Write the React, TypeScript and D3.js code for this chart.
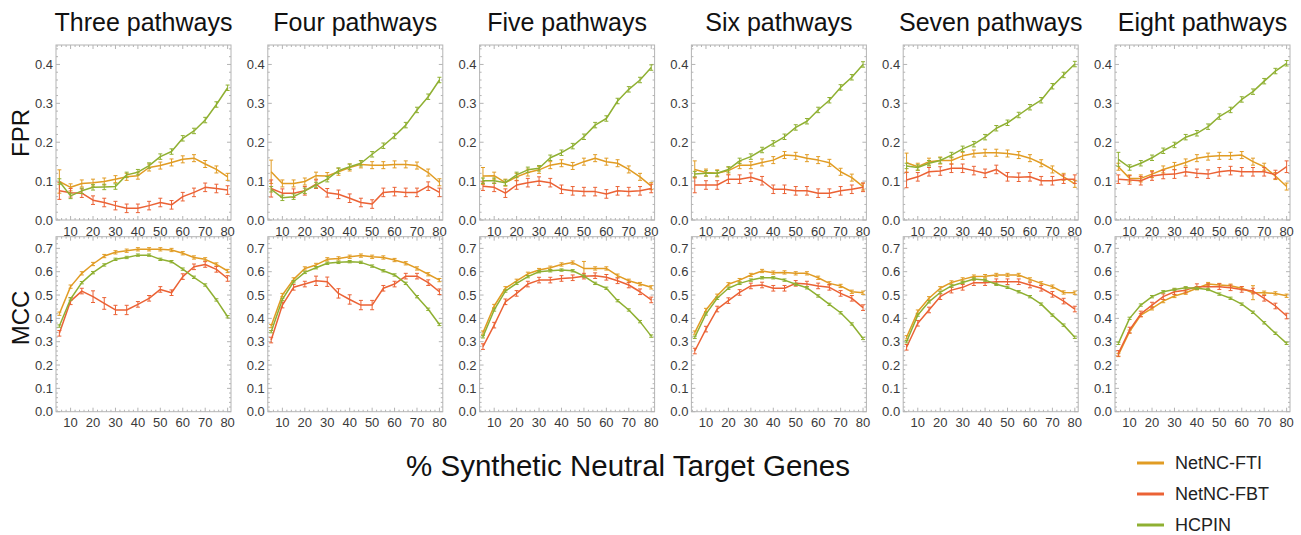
import React from "react";
import * as d3 from "d3";

// Percent of synthetic neutral target genes
const xs = [5, 10, 15, 20, 25, 30, 35, 40, 45, 50, 55, 60, 65, 70, 75, 80];

const panelTitles = [
  "Three pathways",
  "Four pathways",
  "Five pathways",
  "Six pathways",
  "Seven pathways",
  "Eight pathways",
];

const methods = ["NetNC-FTI", "NetNC-FBT", "HCPIN"];
const methodColors = ["#E19C24", "#EB6235", "#8FB032"];

// FPR, one row per panel
const fprFTI = [
  [0.099, 0.084, 0.094, 0.096, 0.099, 0.105, 0.111, 0.114, 0.135, 0.14, 0.148, 0.156, 0.159, 0.144, 0.13, 0.111],
  [0.124, 0.094, 0.094, 0.099, 0.114, 0.113, 0.124, 0.135, 0.143, 0.141, 0.141, 0.143, 0.143, 0.14, 0.122, 0.097],
  [0.113, 0.114, 0.096, 0.111, 0.122, 0.129, 0.141, 0.146, 0.139, 0.15, 0.159, 0.15, 0.146, 0.13, 0.111, 0.087],
  [0.13, 0.122, 0.12, 0.127, 0.141, 0.141, 0.148, 0.154, 0.167, 0.165, 0.159, 0.154, 0.147, 0.124, 0.109, 0.086],
  [0.147, 0.137, 0.15, 0.153, 0.153, 0.165, 0.171, 0.173, 0.173, 0.171, 0.167, 0.159, 0.146, 0.13, 0.111, 0.093],
  [0.137, 0.107, 0.107, 0.118, 0.13, 0.139, 0.148, 0.159, 0.163, 0.165, 0.165, 0.167, 0.15, 0.137, 0.113, 0.086],
];
const fprFBT = [
  [0.075, 0.07, 0.069, 0.051, 0.045, 0.037, 0.03, 0.03, 0.037, 0.045, 0.039, 0.06, 0.071, 0.084, 0.081, 0.077],
  [0.081, 0.069, 0.069, 0.075, 0.092, 0.07, 0.066, 0.056, 0.045, 0.041, 0.071, 0.073, 0.071, 0.071, 0.087, 0.071],
  [0.087, 0.084, 0.069, 0.09, 0.096, 0.1, 0.096, 0.079, 0.075, 0.073, 0.073, 0.067, 0.075, 0.073, 0.075, 0.081],
  [0.09, 0.09, 0.09, 0.105, 0.105, 0.11, 0.101, 0.079, 0.079, 0.075, 0.075, 0.069, 0.069, 0.075, 0.079, 0.084],
  [0.103, 0.111, 0.124, 0.126, 0.133, 0.133, 0.127, 0.12, 0.13, 0.111, 0.11, 0.111, 0.101, 0.101, 0.105, 0.105],
  [0.105, 0.103, 0.101, 0.113, 0.117, 0.118, 0.124, 0.12, 0.118, 0.124, 0.127, 0.124, 0.124, 0.124, 0.117, 0.137],
];
const fprHCPIN = [
  [0.099, 0.062, 0.075, 0.084, 0.085, 0.086, 0.116, 0.123, 0.14, 0.163, 0.176, 0.21, 0.229, 0.257, 0.297, 0.34],
  [0.079, 0.057, 0.06, 0.075, 0.09, 0.105, 0.127, 0.137, 0.146, 0.169, 0.191, 0.216, 0.244, 0.283, 0.317, 0.36],
  [0.101, 0.101, 0.096, 0.116, 0.129, 0.133, 0.16, 0.173, 0.19, 0.214, 0.244, 0.261, 0.306, 0.336, 0.36, 0.392],
  [0.118, 0.12, 0.12, 0.13, 0.152, 0.163, 0.18, 0.197, 0.214, 0.238, 0.254, 0.283, 0.308, 0.341, 0.367, 0.4],
  [0.139, 0.135, 0.146, 0.153, 0.167, 0.183, 0.195, 0.213, 0.236, 0.25, 0.27, 0.29, 0.308, 0.344, 0.373, 0.401],
  [0.156, 0.135, 0.146, 0.16, 0.178, 0.193, 0.213, 0.223, 0.24, 0.266, 0.283, 0.31, 0.33, 0.357, 0.383, 0.403],
];

// MCC, one row per panel
const mccFTI = [
  [0.42, 0.536, 0.593, 0.633, 0.667, 0.683, 0.69, 0.696, 0.696, 0.696, 0.693, 0.679, 0.661, 0.653, 0.631, 0.603],
  [0.367, 0.5, 0.567, 0.614, 0.629, 0.653, 0.657, 0.664, 0.669, 0.664, 0.661, 0.65, 0.636, 0.614, 0.589, 0.564],
  [0.339, 0.453, 0.529, 0.561, 0.591, 0.607, 0.617, 0.631, 0.639, 0.614, 0.614, 0.614, 0.583, 0.561, 0.547, 0.533],
  [0.339, 0.436, 0.497, 0.546, 0.564, 0.586, 0.603, 0.596, 0.597, 0.593, 0.593, 0.574, 0.55, 0.539, 0.514, 0.51],
  [0.319, 0.429, 0.486, 0.529, 0.554, 0.567, 0.579, 0.581, 0.586, 0.586, 0.586, 0.567, 0.55, 0.536, 0.511, 0.51],
  [0.243, 0.343, 0.414, 0.443, 0.474, 0.496, 0.51, 0.529, 0.547, 0.543, 0.54, 0.529, 0.51, 0.51, 0.507, 0.497],
];
const mccFBT = [
  [0.336, 0.474, 0.517, 0.493, 0.464, 0.436, 0.436, 0.46, 0.486, 0.524, 0.51, 0.579, 0.621, 0.631, 0.61, 0.571],
  [0.307, 0.457, 0.533, 0.547, 0.561, 0.557, 0.507, 0.481, 0.457, 0.457, 0.529, 0.547, 0.581, 0.581, 0.553, 0.514],
  [0.279, 0.371, 0.471, 0.507, 0.547, 0.564, 0.564, 0.571, 0.574, 0.581, 0.583, 0.576, 0.561, 0.543, 0.514, 0.479],
  [0.26, 0.354, 0.44, 0.476, 0.511, 0.539, 0.543, 0.529, 0.529, 0.55, 0.547, 0.539, 0.533, 0.507, 0.486, 0.446],
  [0.276, 0.379, 0.436, 0.493, 0.521, 0.533, 0.553, 0.553, 0.557, 0.557, 0.557, 0.543, 0.529, 0.503, 0.474, 0.44],
  [0.25, 0.35, 0.419, 0.457, 0.493, 0.514, 0.521, 0.536, 0.536, 0.536, 0.531, 0.524, 0.517, 0.486, 0.453, 0.41],
];
const mccHCPIN = [
  [0.367, 0.483, 0.553, 0.596, 0.629, 0.653, 0.661, 0.671, 0.671, 0.653, 0.643, 0.611, 0.576, 0.543, 0.479, 0.407],
  [0.343, 0.481, 0.557, 0.597, 0.617, 0.636, 0.64, 0.643, 0.64, 0.624, 0.604, 0.586, 0.55, 0.493, 0.439, 0.374],
  [0.321, 0.436, 0.517, 0.55, 0.579, 0.6, 0.604, 0.607, 0.604, 0.581, 0.55, 0.529, 0.476, 0.436, 0.386, 0.324],
  [0.319, 0.419, 0.486, 0.529, 0.55, 0.564, 0.574, 0.574, 0.564, 0.546, 0.531, 0.496, 0.46, 0.424, 0.376, 0.314],
  [0.3, 0.414, 0.471, 0.511, 0.539, 0.554, 0.569, 0.564, 0.546, 0.533, 0.514, 0.493, 0.461, 0.414, 0.371, 0.319],
  [0.293, 0.4, 0.457, 0.493, 0.514, 0.524, 0.531, 0.529, 0.524, 0.504, 0.486, 0.461, 0.426, 0.381, 0.336, 0.293],
];

// Typical half-widths of the error bars, per method
const fprErr = [0.009, 0.011, 0.007];
const mccErr = [0.007, 0.012, 0.005];

// Points whose error bars are noticeably wider: [panel, metric, method, xIndex, halfWidth]
const wideErrors: [number, string, number, number, number][] = [
  [0, "FPR", 0, 0, 0.03],
  [0, "FPR", 1, 0, 0.022],
  [1, "FPR", 0, 0, 0.03],
  [1, "FPR", 1, 0, 0.022],
  [2, "FPR", 0, 0, 0.022],
  [3, "FPR", 0, 0, 0.022],
  [3, "FPR", 1, 0, 0.02],
  [4, "FPR", 0, 0, 0.025],
  [4, "FPR", 1, 0, 0.02],
  [5, "FPR", 2, 0, 0.018],
  [5, "FPR", 1, 15, 0.015],
  [0, "MCC", 1, 1, 0.015],
  [0, "MCC", 1, 3, 0.025],
  [0, "MCC", 1, 4, 0.025],
  [0, "MCC", 1, 5, 0.02],
  [0, "MCC", 1, 6, 0.02],
  [1, "MCC", 1, 4, 0.02],
  [1, "MCC", 1, 5, 0.02],
  [1, "MCC", 1, 6, 0.02],
  [1, "MCC", 1, 7, 0.02],
  [1, "MCC", 1, 8, 0.02],
  [1, "MCC", 1, 9, 0.02],
  [2, "MCC", 0, 9, 0.03],
  [5, "MCC", 0, 12, 0.03],
];

const xTicks = [10, 20, 30, 40, 50, 60, 70, 80];
const fprTicks = [0, 0.1, 0.2, 0.3, 0.4];
const mccTicks = [0, 0.1, 0.2, 0.3, 0.4, 0.5, 0.6, 0.7];

const W = 1301;
const H = 535;
const panelLeft0 = 56;
const panelStep = 211.8;
const panelW = 175;
const rows = [
  { key: "FPR", top: 45, h: 175, max: 0.45, ticks: fprTicks, data: [fprFTI, fprFBT, fprHCPIN], err: fprErr, labelY: 133 },
  { key: "MCC", top: 236.7, h: 175, max: 0.75, ticks: mccTicks, data: [mccFTI, mccFBT, mccHCPIN], err: mccErr, labelY: 318 },
];

const frameColor = "#b4b4b4";
const tickTextColor = "#3a3a3a";
const font = "'Liberation Sans', Arial, Helvetica, sans-serif";

function Panel({ pi, row }: { pi: number; row: (typeof rows)[number] }) {
  const left = panelLeft0 + pi * panelStep;
  const x = d3.scaleLinear().domain([3.5, 81.5]).range([left, left + panelW]);
  const y = d3.scaleLinear().domain([0, row.max]).range([row.top + row.h, row.top]);
  const bottom = row.top + row.h;
  const right = left + panelW;
  const line = d3
    .line<number>()
    .x((_, i) => x(xs[i]))
    .y((v) => y(v));

  const xMinor = d3.range(4, 81, 2);
  const yMinor = d3.range(0, row.max + 1e-9, 0.02);

  const errFor = (mi: number, i: number) => {
    const w = wideErrors.find((e) => e[0] === pi && e[1] === row.key && e[2] === mi && e[3] === i);
    return w ? w[4] : row.err[mi];
  };

  return (
    <g>
      <rect x={left} y={row.top} width={panelW} height={row.h} fill="none" stroke={frameColor} strokeWidth={1} />
      {xMinor.map((t) => {
        const major = t % 10 === 0;
        const len = major ? 4 : 2;
        return (
          <g key={"xm" + t} stroke={frameColor} strokeWidth={1}>
            <line x1={x(t)} x2={x(t)} y1={bottom} y2={bottom - len} />
            <line x1={x(t)} x2={x(t)} y1={row.top} y2={row.top + len} />
          </g>
        );
      })}
      {yMinor.map((t, k) => {
        const major = k % 5 === 0;
        const len = major ? 4 : 2;
        return (
          <g key={"ym" + k} stroke={frameColor} strokeWidth={1}>
            <line x1={left} x2={left + len} y1={y(t)} y2={y(t)} />
            <line x1={right} x2={right - len} y1={y(t)} y2={y(t)} />
          </g>
        );
      })}
      {xTicks.map((t) => (
        <text
          key={"xt" + t}
          x={x(t)}
          y={bottom + 11}
          textAnchor="middle"
          dominantBaseline="central"
          fontSize={13}
          fill={tickTextColor}
          fontFamily={font}
        >
          {t}
        </text>
      ))}
      {row.ticks.map((t) => (
        <text
          key={"yt" + t}
          x={left - 3}
          y={y(t)}
          textAnchor="end"
          dominantBaseline="central"
          fontSize={13}
          fill={tickTextColor}
          fontFamily={font}
        >
          {t.toFixed(1)}
        </text>
      ))}
      {row.data.map((series, mi) => {
        const vals = series[pi];
        const color = methodColors[mi];
        return (
          <g key={"s" + mi}>
            <path d={line(vals) || ""} fill="none" stroke={color} strokeWidth={1.5} strokeLinejoin="round" />
            {vals.map((v, i) => {
              const e = errFor(mi, i);
              const cx = x(xs[i]);
              return (
                <g key={i} stroke={color} strokeWidth={1}>
                  <line x1={cx} x2={cx} y1={y(v - e)} y2={y(v + e)} />
                  <line x1={cx - 2} x2={cx + 2} y1={y(v - e)} y2={y(v - e)} />
                  <line x1={cx - 2} x2={cx + 2} y1={y(v + e)} y2={y(v + e)} />
                </g>
              );
            })}
          </g>
        );
      })}
    </g>
  );
}

export default function App() {
  return (
    <svg
      width={W}
      height={H}
      viewBox={`0 0 ${W} ${H}`}
      style={{ position: "absolute", left: 0, top: 0, background: "#fff" }}
    >
      <rect width={W} height={H} fill="#fff" />
      {panelTitles.map((t, pi) => (
        <text
          key={t}
          x={panelLeft0 + pi * panelStep + panelW / 2}
          y={31}
          textAnchor="middle"
          fontSize={25}
          fill="#111"
          fontFamily={font}
        >
          {t}
        </text>
      ))}
      {rows.map((row) => (
        <g key={row.key}>
          <text
            transform={`translate(29, ${row.labelY}) rotate(-90)`}
            textAnchor="middle"
            fontSize={24}
            fill="#111"
            fontFamily={font}
          >
            {row.key}
          </text>
          {panelTitles.map((_, pi) => (
            <Panel key={pi} pi={pi} row={row} />
          ))}
        </g>
      ))}
      <text x={628} y={476} textAnchor="middle" fontSize={29.5} fill="#111" fontFamily={font}>
        % Synthetic Neutral Target Genes
      </text>
      {methods.map((m, mi) => {
        const cy = 463 + mi * 31;
        return (
          <g key={m}>
            <line x1={1137} x2={1164} y1={cy} y2={cy} stroke={methodColors[mi]} strokeWidth={3} />
            <text x={1175} y={cy + 6} fontSize={18} fill="#222" fontFamily={font}>
              {m}
            </text>
          </g>
        );
      })}
    </svg>
  );
}
